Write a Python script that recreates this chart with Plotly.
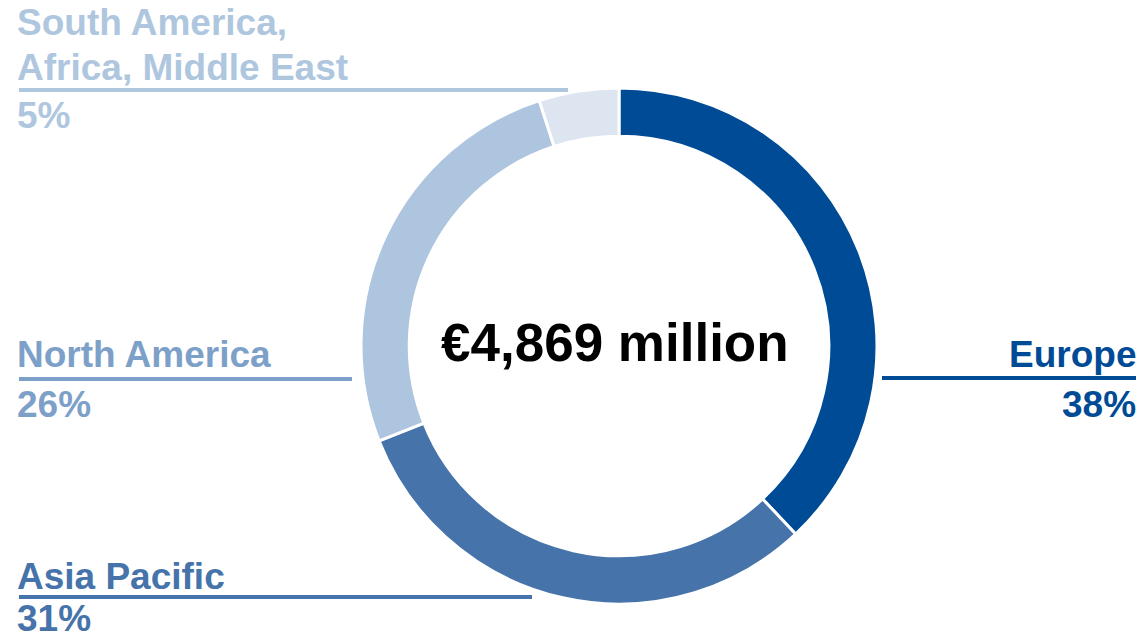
import plotly.graph_objects as go

regions = ["Europe", "Asia Pacific", "North America", "South America,<br>Africa, Middle East"]
shares = [38, 31, 26, 5]
slice_colors = ["#004B96", "#4573AA", "#AEC5DF", "#DCE5F0"]
label_colors = ["#004B96", "#4573AA", "#7DA0C9", "#AFC6DF"]
pct_labels = ["38%", "31%", "26%", "5%"]
total_text = "€4,869 million"

W, H = 1140, 640
FONT = "Liberation Sans, Arial, sans-serif"

def px(x):
    return x / W

def py(y):
    return 1 - y / H

cx, cy, r = 619, 346, 258

fig = go.Figure()
fig.add_trace(go.Pie(
    labels=regions,
    values=shares,
    hole=0.813,
    sort=False,
    direction="clockwise",
    rotation=0,
    marker=dict(colors=slice_colors, line=dict(color="white", width=3)),
    textinfo="none",
    hoverinfo="label+percent",
    showlegend=False,
    domain=dict(x=[px(cx - r), px(cx + r)], y=[py(cy + r), py(cy - r)]),
))

annotations = []
shapes = []

def add_text(text, x, y, color, size, xanchor="left", yanchor="middle"):
    annotations.append(dict(
        text=text, x=px(x), y=py(y), xref="paper", yref="paper",
        xanchor=xanchor, yanchor=yanchor, showarrow=False, borderpad=0,
        font=dict(family=FONT, size=size, color=color),
    ))

def add_line(x0, x1, y, color):
    shapes.append(dict(
        type="line", xref="paper", yref="paper",
        x0=px(x0), x1=px(x1), y0=py(y), y1=py(y),
        line=dict(color=color, width=4),
    ))

LS = 37
# Europe
add_text("<b>" + regions[0] + "</b>", 1137, 354, label_colors[0], LS, "right")
add_line(882, 1136, 378, label_colors[0])
add_text("<b>" + pct_labels[0] + "</b>", 1137, 404, label_colors[0], LS, "right")
# Asia Pacific
add_text("<b>" + regions[1] + "</b>", 16, 576, label_colors[1], LS)
add_line(19, 532, 597, label_colors[1])
add_text("<b>" + pct_labels[1] + "</b>", 16, 640, label_colors[1], LS, "left", "bottom")
# North America
add_text("<b>" + regions[2] + "</b>", 16, 354, label_colors[2], LS)
add_line(19, 352, 379, label_colors[2])
add_text("<b>" + pct_labels[2] + "</b>", 16, 404, label_colors[2], LS)
# South America, Africa, Middle East
add_text("<b>South America,</b>", 16, 22, label_colors[3], LS)
add_text("<b>Africa, Middle East</b>", 16, 67, label_colors[3], LS)
add_line(19, 568, 90, label_colors[3])
add_text("<b>" + pct_labels[3] + "</b>", 16, 115, label_colors[3], LS)

# Centre total
add_text("<b>" + total_text + "</b>", 615, 342, "#000000", 53, "center")

fig.update_layout(
    width=W, height=H,
    margin=dict(l=0, r=0, t=0, b=0),
    paper_bgcolor="white", plot_bgcolor="white",
    annotations=annotations, shapes=shapes,
)

fig.write_html(
    "out.html",
    config={"displayModeBar": False},
    post_script="document.body.style.margin='0';document.body.style.padding='0';",
)
